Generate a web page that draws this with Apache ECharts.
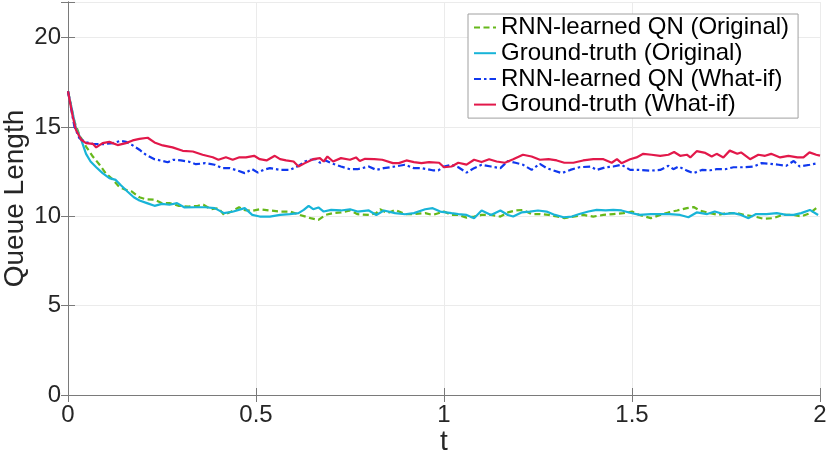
<!DOCTYPE html>
<html>
<head>
<meta charset="utf-8">
<script src="https://cdn.jsdelivr.net/npm/echarts@6/dist/echarts.min.js"></script>
<style>
html,body{margin:0;padding:0;background:#fff;}
#chart{width:830px;height:455px;}
</style>
</head>
<body>
<div id="chart"></div>
<script>
const seriesNames = ['RNN-learned QN (Original)', 'Ground-truth (Original)', 'RNN-learned QN (What-if)', 'Ground-truth (What-if)'];
const xTicks = [0, 0.5, 1, 1.5, 2];
const yTicks = [0, 5, 10, 15, 20];

const rnnOriginal = [[0,17],[0.017,15.31],[0.03,14.57],[0.048,13.91],[0.066,13.35],[0.084,12.89],[0.1,12.42],[0.12,12.04],[0.137,11.63],[0.155,11.48],[0.17,11.39],[0.19,11.07],[0.207,10.96],[0.23,10.93],[0.25,10.74],[0.27,10.74],[0.295,10.59],[0.32,10.55],[0.345,10.59],[0.36,10.65],[0.38,10.4],[0.4,10.46],[0.415,10.08],[0.435,10.27],[0.455,10.51],[0.47,10.35],[0.49,10.31],[0.51,10.4],[0.537,10.33],[0.564,10.27],[0.59,10.27],[0.617,10.08],[0.645,9.9],[0.666,9.8],[0.685,10.08],[0.705,10.18],[0.726,10.22],[0.75,10.33],[0.77,10.12],[0.8,10.08],[0.82,10.18],[0.83,10.4],[0.85,10.18],[0.87,10.36],[0.896,10.13],[0.92,10.13],[0.95,10.18],[0.97,10.08],[1.0,10.27],[1.02,10.08],[1.038,10.08],[1.06,9.93],[1.08,9.99],[1.1,10.08],[1.125,10.08],[1.15,9.99],[1.17,10.22],[1.19,10.33],[1.21,10.36],[1.233,10.13],[1.255,10.13],[1.278,10.08],[1.3,9.99],[1.32,9.9],[1.344,9.99],[1.37,10.08],[1.397,9.99],[1.424,10.08],[1.45,10.13],[1.477,10.18],[1.5,10.27],[1.52,10.08],[1.55,9.9],[1.575,10.08],[1.597,10.22],[1.62,10.33],[1.646,10.46],[1.664,10.52],[1.68,10.33],[1.708,10.18],[1.73,10.08],[1.75,10.18],[1.78,10.18],[1.8,10.08],[1.827,9.99],[1.85,9.86],[1.876,9.9],[1.9,10.08],[1.93,10.08],[1.95,9.99],[1.973,10.18],[1.99,10.46]];

const gtOriginal = [[0,17],[0.021,14.94],[0.035,14.29],[0.048,13.5],[0.06,13.07],[0.075,12.75],[0.092,12.42],[0.11,12.14],[0.127,12.04],[0.14,11.76],[0.158,11.39],[0.175,11.07],[0.19,10.89],[0.21,10.74],[0.23,10.59],[0.25,10.7],[0.27,10.65],[0.29,10.74],[0.31,10.5],[0.34,10.51],[0.365,10.51],[0.39,10.46],[0.415,10.18],[0.44,10.27],[0.47,10.46],[0.49,10.08],[0.51,9.99],[0.537,9.99],[0.564,10.08],[0.59,10.13],[0.613,10.18],[0.627,10.36],[0.64,10.59],[0.652,10.4],[0.666,10.5],[0.68,10.27],[0.7,10.36],[0.726,10.33],[0.75,10.4],[0.77,10.27],[0.8,10.33],[0.82,10.08],[0.84,10.33],[0.87,10.18],[0.896,10.12],[0.92,10.18],[0.95,10.4],[0.97,10.46],[0.99,10.27],[1.02,10.18],[1.038,10.13],[1.06,10.08],[1.08,9.9],[1.1,10.33],[1.125,10.08],[1.15,10.33],[1.17,10.08],[1.184,9.99],[1.206,10.22],[1.228,10.27],[1.25,10.33],[1.273,10.27],[1.295,10.08],[1.318,9.95],[1.34,9.99],[1.36,10.13],[1.384,10.27],[1.406,10.36],[1.43,10.33],[1.45,10.36],[1.472,10.33],[1.495,10.2],[1.52,10.08],[1.55,10.13],[1.575,10.13],[1.6,10.12],[1.628,10.08],[1.65,9.95],[1.672,10.22],[1.7,10.13],[1.72,10.27],[1.743,10.13],[1.77,10.18],[1.79,10.08],[1.81,9.9],[1.83,10.13],[1.858,10.13],[1.885,10.18],[1.91,10.08],[1.93,10.08],[1.95,10.18],[1.973,10.36],[1.995,10.08]];

const rnnWhatIf = [[0,17],[0.017,15.03],[0.03,14.38],[0.048,14.14],[0.066,14.06],[0.092,14.04],[0.12,14.1],[0.14,14.23],[0.155,14.17],[0.17,14.0],[0.19,13.73],[0.207,13.45],[0.23,13.2],[0.25,13.11],[0.265,13.03],[0.28,13.17],[0.3,13.13],[0.32,13.07],[0.34,12.92],[0.365,12.98],[0.39,12.89],[0.41,12.7],[0.43,12.7],[0.45,12.57],[0.47,12.42],[0.49,12.64],[0.505,12.45],[0.52,12.6],[0.537,12.7],[0.564,12.6],[0.59,12.6],[0.613,12.83],[0.63,13.07],[0.645,13.17],[0.66,13.2],[0.67,13.0],[0.685,13.13],[0.7,12.98],[0.726,12.79],[0.75,12.64],[0.77,12.64],[0.8,12.79],[0.82,12.6],[0.84,12.7],[0.87,12.79],[0.896,12.89],[0.92,12.7],[0.94,12.7],[0.97,12.58],[0.985,12.58],[1.0,12.79],[1.02,12.89],[1.038,12.75],[1.06,12.45],[1.08,12.7],[1.1,12.89],[1.125,12.79],[1.15,12.7],[1.17,13.1],[1.19,13.0],[1.21,12.89],[1.233,12.6],[1.255,12.94],[1.273,12.7],[1.29,12.58],[1.313,12.42],[1.336,12.6],[1.36,12.75],[1.39,12.79],[1.406,12.6],[1.43,12.75],[1.45,12.79],[1.472,12.89],[1.495,12.6],[1.518,12.6],[1.55,12.56],[1.575,12.6],[1.597,12.83],[1.61,12.64],[1.624,12.79],[1.646,12.56],[1.664,12.42],[1.686,12.6],[1.708,12.58],[1.725,12.64],[1.748,12.64],[1.77,12.75],[1.796,12.75],[1.823,12.79],[1.845,12.98],[1.867,12.94],[1.89,12.89],[1.91,12.83],[1.93,13.1],[1.946,12.79],[1.973,12.89],[1.995,12.98]];

const gtWhatIf = [[0,17],[0.0125,15.6],[0.021,14.85],[0.035,14.29],[0.048,14.1],[0.066,14.06],[0.075,13.86],[0.092,14.1],[0.11,14.17],[0.132,13.99],[0.154,14.1],[0.172,14.25],[0.19,14.34],[0.212,14.4],[0.23,14.14],[0.252,13.97],[0.278,13.86],[0.305,13.67],[0.332,13.63],[0.358,13.45],[0.385,13.31],[0.4,13.17],[0.42,13.31],[0.438,13.17],[0.456,13.31],[0.473,13.3],[0.495,13.39],[0.51,13.2],[0.528,13.13],[0.55,13.39],[0.564,13.2],[0.58,13.13],[0.6,13.07],[0.613,12.79],[0.63,12.98],[0.652,13.2],[0.67,13.26],[0.68,13.07],[0.69,13.35],[0.705,13.07],[0.726,13.26],[0.75,13.17],[0.766,13.3],[0.776,13.1],[0.79,13.22],[0.815,13.2],[0.836,13.17],[0.864,12.98],[0.88,12.98],[0.9,13.13],[0.92,13.04],[0.94,12.98],[0.96,13.04],[0.987,13.0],[1.0,12.75],[1.02,12.79],[1.038,13.0],[1.06,12.9],[1.08,13.17],[1.1,13.04],[1.12,13.2],[1.14,13.07],[1.162,13.0],[1.184,13.2],[1.21,13.45],[1.233,13.35],[1.255,13.17],[1.278,13.2],[1.3,13.13],[1.32,13.0],[1.344,13.0],[1.37,13.13],[1.397,13.2],[1.424,13.2],[1.446,13.0],[1.46,13.2],[1.472,12.98],[1.495,13.2],[1.512,13.3],[1.53,13.5],[1.552,13.45],[1.575,13.39],[1.597,13.45],[1.612,13.6],[1.628,13.39],[1.646,13.45],[1.655,13.3],[1.672,13.65],[1.695,13.55],[1.712,13.35],[1.725,13.5],[1.743,13.3],[1.76,13.68],[1.78,13.5],[1.79,13.58],[1.814,13.2],[1.836,13.45],[1.854,13.39],[1.87,13.5],[1.894,13.3],[1.916,13.39],[1.94,13.3],[1.956,13.3],[1.972,13.58],[1.99,13.45],[2.0,13.4]];

const FONT = 'Liberation Sans, Helvetica, Arial, sans-serif';
const AXC = '#7a7a7a';
const chart = echarts.init(document.getElementById('chart'), null, {renderer: 'canvas'});

function mkSeries(name, data, color, dash) {
  return {
    name: name, type: 'line', data: data, showSymbol: false, symbol: 'none',
    xAxisIndex: 0, yAxisIndex: 0, animation: false,
    lineStyle: {color: color, width: 2.2, type: dash},
    itemStyle: {color: color}
  };
}

chart.setOption({
  animation: false,
  backgroundColor: '#ffffff',
  grid: {left: 68, right: 10, top: 2, bottom: 60, containLabel: false, outerBoundsMode: 'none'},
  legend: {
    orient: 'vertical', left: 468, top: 14,
    data: seriesNames,
    backgroundColor: '#ffffff', borderColor: '#a0a0a0', borderWidth: 1, borderRadius: 0,
    padding: [1.5, 9, 1.5, 5], itemGap: 1.7, itemWidth: 22, itemHeight: 12,
    itemStyle: {opacity: 0},
    textStyle: {fontFamily: FONT, fontSize: 24, color: '#000', lineHeight: 24}
  },
  xAxis: [{
    type: 'value', min: 0, max: 2, interval: 0.5, position: 'bottom',
    name: 't', nameLocation: 'middle', nameGap: 33, nameMoveOverlap: false,
    nameTextStyle: {fontFamily: FONT, fontSize: 28, color: '#262626'},
    axisLine: {show: true, lineStyle: {color: AXC, width: 1}},
    axisTick: {show: true, inside: true, length: 7, lineStyle: {color: AXC}},
    axisLabel: {fontFamily: FONT, fontSize: 24, color: '#262626', margin: 8,
      formatter: v => (xTicks.indexOf(v) >= 0 ? String(v) : '')},
    splitLine: {show: true, lineStyle: {color: '#ebebeb', width: 1}}
  }, {
    type: 'value', min: 0, max: 2, interval: 0.5, position: 'top',
    axisLine: {show: true, lineStyle: {color: AXC, width: 1}},
    axisTick: {show: true, inside: true, length: 7, lineStyle: {color: AXC}},
    axisLabel: {show: false}, splitLine: {show: false}
  }],
  yAxis: [{
    type: 'value', min: 0, max: 22, interval: 5, position: 'left',
    name: 'Queue Length', nameLocation: 'middle', nameGap: 39, nameMoveOverlap: false,
    nameTextStyle: {fontFamily: FONT, fontSize: 28, color: '#262626'},
    axisLine: {show: true, lineStyle: {color: AXC, width: 1}},
    axisTick: {show: true, inside: true, length: 7, lineStyle: {color: AXC}},
    axisLabel: {fontFamily: FONT, fontSize: 24, color: '#262626', margin: 7,
      formatter: v => (yTicks.indexOf(v) >= 0 ? String(v) : '')},
    splitLine: {show: true, lineStyle: {color: '#ebebeb', width: 1}}
  }, {
    type: 'value', min: 0, max: 22, interval: 5, position: 'right',
    axisLine: {show: true, lineStyle: {color: AXC, width: 1}},
    axisTick: {show: true, inside: true, length: 7, lineStyle: {color: AXC}},
    axisLabel: {show: false}, splitLine: {show: false}
  }],
  series: [
    mkSeries(seriesNames[0], rnnOriginal, '#66b81a', [6, 3.5]),
    mkSeries(seriesNames[1], gtOriginal, '#18b4d8', 'solid'),
    mkSeries(seriesNames[2], rnnWhatIf, '#1038ee', [7, 3, 2.5, 3]),
    mkSeries(seriesNames[3], gtWhatIf, '#e2184a', 'solid')
  ]
});
</script>
</body>
</html>
